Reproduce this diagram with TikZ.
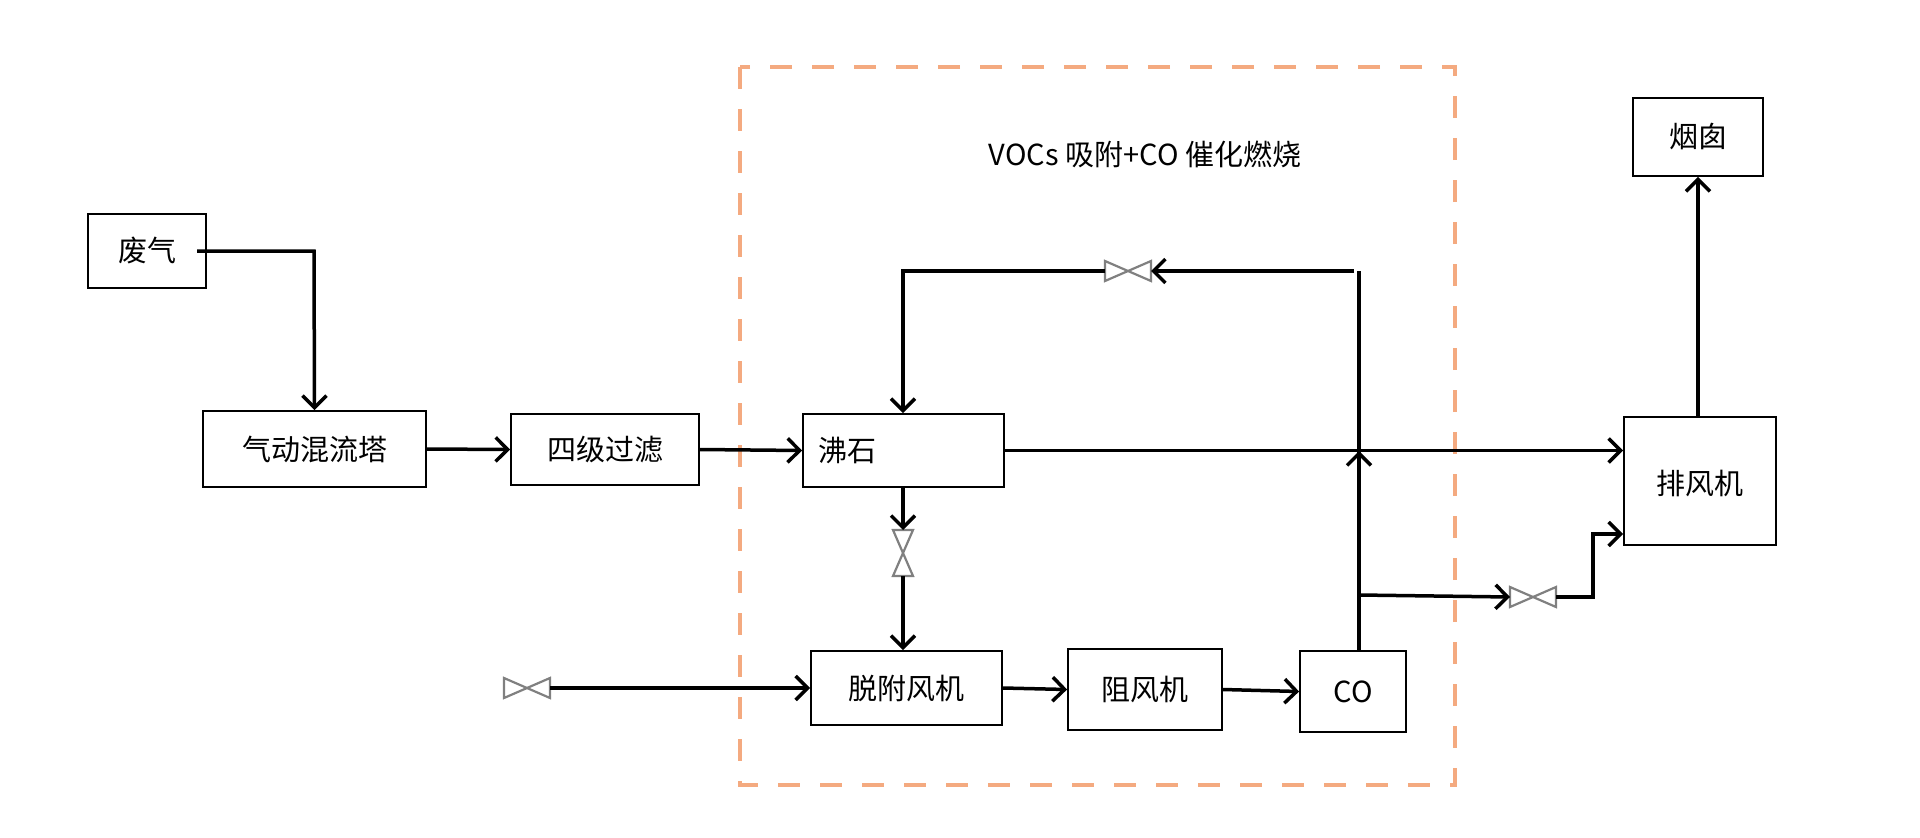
\documentclass[tikz,border=0pt]{standalone}
\usepackage{fontspec}
\setmainfont{Noto Sans CJK SC}
\usetikzlibrary{arrows.meta}
\begin{document}
\begin{tikzpicture}[x=1pt,y=-1pt,
  box/.style={draw,line width=1.8pt,inner sep=0pt,font=\fontsize{29}{29}\selectfont},
  flow/.style={line width=3.5pt,-{Straight Barb[length=12pt,width=24pt,line width=3.5pt]}},
  line/.style={line width=3.5pt},
  valveh/.style={draw=gray,line width=2.2pt},
]
\useasboundingbox (0,0) rectangle (1920,838);
\draw[line width=4pt,draw={rgb,255:red,244;green,170;blue,128},dash pattern=on 22pt off 20pt] (740,67) rectangle (1455,785);
\node[font=\fontsize{29}{29}\selectfont] (title) at (1145,154) {VOCs 吸附+CO 催化燃烧};

\node[box,minimum width=118,minimum height=74] (fq) at (147,251) {废气};
\node[box,minimum width=223,minimum height=76] (hl) at (314.5,449) {气动混流塔};
\node[box,minimum width=188,minimum height=71] (gl) at (605,449.5) {四级过滤};
\node[box,minimum width=201,minimum height=73,text width=170,align=left] (fs) at (903.5,450.5) {沸石};
\node[box,minimum width=191,minimum height=74] (tf) at (906.5,688) {脱附风机};
\node[box,minimum width=154,minimum height=81] (zf) at (1145,689.5) {阻风机};
\node[box,minimum width=106,minimum height=81] (co) at (1353,691.5) {CO};
\node[box,minimum width=152,minimum height=128,text height=29,anchor=north] (pf) at (1700,416) {排风机};
\node[box,minimum width=130,minimum height=78] (yc) at (1698,137) {烟囱};

% valve centres
\coordinate (v1) at (1128,271);
\coordinate (v2) at (903,553);
\coordinate (v3) at (527,688);
\coordinate (v4) at (1533,597);
\foreach \c in {v1,v3,v4}
  \draw[valveh] ([shift={(-23,-10)}]\c) -- ([shift={(23,10)}]\c) -- ([shift={(23,-10)}]\c) -- ([shift={(-23,10)}]\c) -- cycle;
\draw[valveh] ([shift={(-10,-23)}]v2) -- ([shift={(10,23)}]v2) -- ([shift={(-10,23)}]v2) -- ([shift={(10,-23)}]v2) -- cycle;

\coordinate (fqo) at (197,251);
\coordinate (k1) at (314,251);
\draw[flow] (fqo) -- (k1) -- (hl.north);
\draw[flow] (hl.east) -- (gl.west);
\draw[flow] (gl.east) -- (fs.west);
\draw[flow] (fs.east) -- (pf.west |- fs.east);

\coordinate (tr) at (1359,271);
\coordinate (trl) at (1354,271);
\coordinate (cross) at (1359,451);
\draw[line] (co.north -| tr) -- (tr);
\draw[flow] (co.north -| tr) -- (cross);
\draw[flow] (trl) -- ([shift={(23,0)}]v1);
\coordinate (tl) at (903,271);
\draw[flow] ([shift={(-23,0)}]v1) -- (tl) -- (fs.north -| tl);

\draw[flow] (fs.south -| v2) -- ([shift={(0,-23)}]v2);
\draw[flow] ([shift={(0,23)}]v2) -- (tf.north -| v2);

\draw[flow] ([shift={(23,0)}]v3) -- (tf.west);
\draw[flow] (tf.east) -- (zf.west);
\draw[flow] (zf.east) -- (co.west);

\coordinate (br) at (1359,595);
\draw[flow] (br) -- ([shift={(-23,0)}]v4);
\coordinate (b1) at (1593,597);
\coordinate (b2) at (1593,534);
\draw[flow] ([shift={(23,0)}]v4) -- (b1) -- (b2) -- (b2 -| pf.west);
\draw[flow] (pf.north -| yc) -- (yc.south);
\end{tikzpicture}
\end{document}
